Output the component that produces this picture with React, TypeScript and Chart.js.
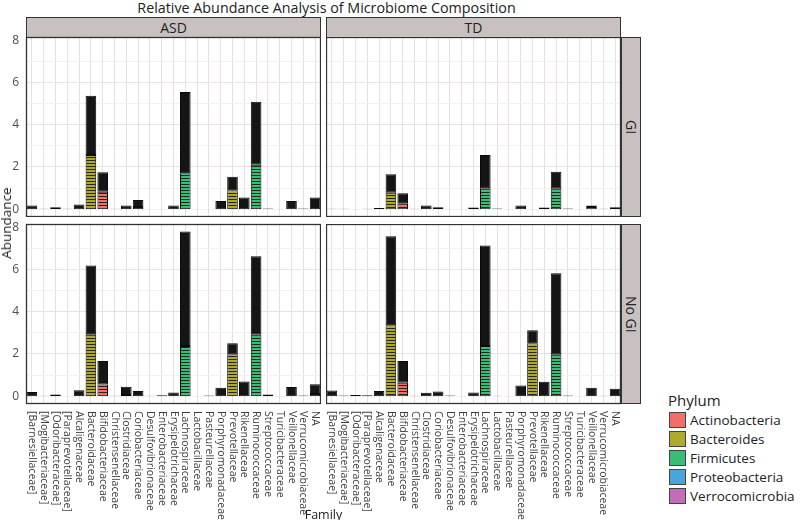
import React, { useEffect, useRef } from 'react';
import { Chart, registerables } from 'chart.js';
Chart.register(...registerables);

// ---------------- data ----------------
const families = [
  '[Barnesiellaceae]', '[Mogibacteriaceae]', '[Odoribacteraceae]', '[Paraprevotellaceae]',
  'Alcaligenaceae', 'Bacteroidaceae', 'Bifidobacteriaceae', 'Christensenellaceae',
  'Clostridiaceae', 'Coriobacteriaceae', 'Desulfovibrionaceae', 'Enterobacteriaceae',
  'Erysipelotrichaceae', 'Lachnospiraceae', 'Lactobacillaceae', 'Pasteurellaceae',
  'Porphyromonadaceae', 'Prevotellaceae', 'Rikenellaceae', 'Ruminococcaceae',
  'Streptococcaceae', 'Turicibacteraceae', 'Veillonellaceae', 'Verrucomicrobiaceae', 'NA',
];

const phyla = ['Actinobacteria', 'Bacteroides', 'Firmicutes', 'Proteobacteria', 'Verrocomicrobia'];

const familyPhylum = [
  'Bacteroides', 'Firmicutes', 'Bacteroides', 'Bacteroides',
  'Proteobacteria', 'Bacteroides', 'Actinobacteria', 'Firmicutes',
  'Firmicutes', 'Actinobacteria', 'Proteobacteria', 'Proteobacteria',
  'Firmicutes', 'Firmicutes', 'Firmicutes', 'Proteobacteria',
  'Bacteroides', 'Bacteroides', 'Bacteroides', 'Firmicutes',
  'Firmicutes', 'Firmicutes', 'Firmicutes', 'Verrocomicrobia', 'Firmicutes',
];

// total abundance per family, and the lower (coloured) part of each stack
const asdGiTotal = [0.17, 0.02, 0.09, 0.02, 0.22, 5.37, 1.75, 0.02, 0.17, 0.43, 0.01, 0.01, 0.17, 5.55, 0.01, 0.01, 0.39, 1.53, 0.55, 5.08, 0.03, 0.01, 0.39, 0.03, 0.55];
const asdGiColored = [0, 0, 0, 0, 0, 2.57, 0.83, 0, 0, 0.1, 0, 0, 0, 1.7, 0, 0, 0, 0.9, 0, 2.1, 0, 0, 0, 0, 0];

const tdGiTotal = [0.02, 0.02, 0.01, 0.02, 0.06, 1.65, 0.75, 0.02, 0.17, 0.09, 0.01, 0.01, 0.08, 2.56, 0.03, 0.01, 0.17, 0.01, 0.08, 1.77, 0.03, 0.01, 0.17, 0.02, 0.09];
const tdGiColored = [0, 0, 0, 0, 0, 0.78, 0.28, 0, 0, 0, 0, 0, 0, 0.99, 0, 0, 0, 0, 0, 0.99, 0, 0, 0.1, 0, 0];

const asdNoGiTotal = [0.2, 0.02, 0.08, 0.01, 0.28, 6.18, 1.66, 0.02, 0.45, 0.25, 0.02, 0.05, 0.18, 7.8, 0.01, 0.03, 0.4, 2.5, 0.7, 6.62, 0.08, 0.01, 0.43, 0.03, 0.57];
const asdNoGiColored = [0, 0, 0, 0, 0, 2.93, 0.55, 0, 0.06, 0, 0, 0, 0, 2.38, 0, 0, 0, 1.98, 0, 2.93, 0, 0, 0, 0, 0.1];

const tdNoGiTotal = [0.27, 0.03, 0.06, 0.04, 0.25, 7.57, 1.66, 0.02, 0.16, 0.22, 0.03, 0.01, 0.17, 7.13, 0.02, 0.01, 0.5, 3.12, 0.68, 5.82, 0.03, 0.01, 0.4, 0.02, 0.35];
const tdNoGiColored = [0, 0, 0, 0, 0, 3.36, 0.63, 0, 0, 0, 0, 0, 0, 2.38, 0, 0, 0, 2.5, 0, 1.98, 0, 0, 0, 0, 0];

const yTickLabels = [0, 2, 4, 6, 8];
const facetCols = ['ASD', 'TD'];
const facetRows = ['GI', 'No GI'];

// ---------------- styles ----------------
const phylumColors: Record<string, string> = {
  Actinobacteria: '#ef6f69',
  Bacteroides: '#b0aa2c',
  Firmicutes: '#37bd76',
  Proteobacteria: '#4aa5da',
  Verrocomicrobia: '#c36cb7',
};
const FONT = '"Open Sans", "DejaVu Sans", sans-serif';
const STRIP_BG = '#c9c1bf';
const DARK = '#333333';

const Y_MIN = -0.37;
const Y_MAX = 8.15;

function makeStripe(color: string) {
  const c = document.createElement('canvas');
  c.width = 4;
  c.height = 3;
  const g = c.getContext('2d')!;
  g.fillStyle = color;
  g.fillRect(0, 0, 4, 3);
  g.fillStyle = 'rgba(15,15,15,0.85)';
  g.fillRect(0, 2, 4, 1);
  return g.createPattern(c, 'repeat');
}

const decorPlugin = {
  id: 'decor',
  afterDraw(chart: any, _args: any, opts: any) {
    const { ctx, chartArea: a, scales } = chart;
    ctx.save();
    ctx.strokeStyle = DARK;
    ctx.lineWidth = 1.3;
    ctx.strokeRect(a.left + 0.5, a.top + 0.5, a.right - a.left - 1, a.bottom - a.top - 1);
    if (opts.showY) {
      ctx.fillStyle = '#4d4d4d';
      ctx.font = `12px ${FONT}`;
      ctx.textAlign = 'right';
      ctx.textBaseline = 'middle';
      yTickLabels.forEach((v) => {
        ctx.fillText(String(v), a.left - 7, scales.y.getPixelForValue(v));
      });
    }
    if (opts.showX) {
      ctx.fillStyle = '#3d3d3d';
      ctx.font = `10.5px ${FONT}`;
      ctx.textAlign = 'left';
      ctx.textBaseline = 'middle';
      families.forEach((f, i) => {
        const x = scales.x.getPixelForValue(i);
        ctx.save();
        ctx.translate(x, a.bottom + 7);
        ctx.rotate(Math.PI / 2);
        ctx.fillText(f, 0, 0);
        ctx.restore();
      });
    }
    ctx.restore();
  },
};

type PanelProps = {
  total: number[];
  colored: number[];
  showX: boolean;
  showY: boolean;
  left: number;
  top: number;
  width: number;
  height: number;
  padLeft: number;
  padTop: number;
  padBottom: number;
};

function Panel({ total, colored, showX, showY, left, top, width, height, padLeft, padTop, padBottom }: PanelProps) {
  const ref = useRef<HTMLCanvasElement>(null);
  useEffect(() => {
    const patterns: Record<string, any> = {};
    phyla.forEach((p) => (patterns[p] = makeStripe(phylumColors[p])));
    const rest = total.map((t, i) => Math.max(0, +(t - colored[i]).toFixed(3)));
    const common = {
      borderColor: '#0b0b0b',
      borderWidth: 1,
      borderSkipped: false,
      barPercentage: 0.9,
      categoryPercentage: 1,
      stack: 's',
    };
    const chart = new Chart(ref.current!, {
      type: 'bar',
      data: {
        labels: families,
        datasets: [
          { ...common, label: 'phylum', data: colored, backgroundColor: familyPhylum.map((p) => patterns[p]) },
          { ...common, label: 'rest', data: rest, backgroundColor: '#151515' },
        ],
      } as any,
      options: {
        responsive: false,
        animation: false,
        events: [],
        layout: { padding: { left: padLeft, right: 0, top: padTop, bottom: padBottom } },
        plugins: {
          legend: { display: false },
          tooltip: { enabled: false },
          decor: { showX, showY },
        } as any,
        scales: {
          x: {
            stacked: true,
            offset: true,
            grid: { offset: false, color: '#e6e1e1', drawTicks: false },
            ticks: { display: false },
            border: { display: false },
            afterFit: (s: any) => { s.height = 0; },
          },
          y: {
            stacked: true,
            min: Y_MIN,
            max: Y_MAX,
            ticks: { display: false, stepSize: 1 },
            grid: {
              drawTicks: false,
              color: (c: any) => (c.tick && c.tick.value % 2 === 0 ? '#ebe1e1' : '#f5efef'),
            },
            border: { display: false },
            afterFit: (s: any) => { s.width = 0; },
            afterBuildTicks: (s: any) => { s.ticks = s.ticks.filter((t: any) => Number.isInteger(t.value)); },
          },
        } as any,
      },
      plugins: [decorPlugin],
    });
    return () => chart.destroy();
  }, []);
  return (
    <canvas
      ref={ref}
      width={width}
      height={height}
      style={{ position: 'absolute', left, top, width, height }}
    />
  );
}

const stripBase: React.CSSProperties = {
  position: 'absolute',
  boxSizing: 'border-box',
  background: STRIP_BG,
  border: `1.3px solid ${DARK}`,
  display: 'flex',
  alignItems: 'center',
  justifyContent: 'center',
  fontSize: 14,
  color: '#222',
  fontFamily: FONT,
};

export default function App() {
  const panelW = 295;
  const panelH = 180;
  const colX = [26, 326];
  const rowY = [37, 224];
  const data = [
    [[asdGiTotal, asdGiColored], [tdGiTotal, tdGiColored]],
    [[asdNoGiTotal, asdNoGiColored], [tdNoGiTotal, tdNoGiColored]],
  ];
  return (
    <div style={{ position: 'fixed', left: 0, top: 0, width: 800, height: 520, background: '#fff', fontFamily: FONT, overflow: 'hidden' }}>
      <div style={{ position: 'absolute', left: 26, width: 601, top: 0, textAlign: 'center', fontSize: 14.3, lineHeight: '16px', color: '#222', whiteSpace: 'nowrap' }}>
        Relative Abundance Analysis of Microbiome Composition
      </div>

      {facetCols.map((c, ci) => (
        <div key={c} style={{ ...stripBase, left: colX[ci], top: 17, width: panelW, height: 21 }}>{c}</div>
      ))}
      {facetRows.map((r, ri) => (
        <div key={r} style={{ ...stripBase, left: 621, top: rowY[ri], width: 20, height: panelH, writingMode: 'vertical-rl' }}>{r}</div>
      ))}

      {rowY.map((y, ri) =>
        colX.map((x, ci) => {
          const showY = ci === 0;
          const showX = ri === 1;
          const padLeft = showY ? 26 : 0;
          const padTop = showY ? 8 : 0;
          const padBottom = showX ? 520 - (y + panelH) : 0;
          return (
            <Panel
              key={`${ri}-${ci}`}
              total={data[ri][ci][0]}
              colored={data[ri][ci][1]}
              showX={showX}
              showY={showY}
              left={x - padLeft}
              top={y - padTop}
              width={panelW + padLeft}
              height={panelH + padTop + padBottom}
              padLeft={padLeft}
              padTop={padTop}
              padBottom={padBottom}
            />
          );
        })
      )}

      <div style={{ position: 'absolute', left: 6, top: 223, transform: 'translate(-50%, -50%) rotate(-90deg)', fontSize: 13.5, color: '#222', whiteSpace: 'nowrap' }}>
        Abundance
      </div>
      <div style={{ position: 'absolute', left: 26, width: 595, top: 507, textAlign: 'center', fontSize: 12.5, lineHeight: '16px', color: '#222' }}>
        Family
      </div>

      <div style={{ position: 'absolute', left: 668, top: 390, fontSize: 15, color: '#222', lineHeight: '20px' }}>Phylum</div>
      {phyla.map((p, i) => (
        <div key={p} style={{ position: 'absolute', left: 669, top: 411 + i * 19, height: 18, display: 'flex', alignItems: 'center' }}>
          <div style={{ width: 17, height: 16, boxSizing: 'border-box', background: phylumColors[p], border: '1px solid #444' }} />
          <span style={{ marginLeft: 4, fontSize: 13.5, color: '#222', whiteSpace: 'nowrap' }}>{p}</span>
        </div>
      ))}
    </div>
  );
}
